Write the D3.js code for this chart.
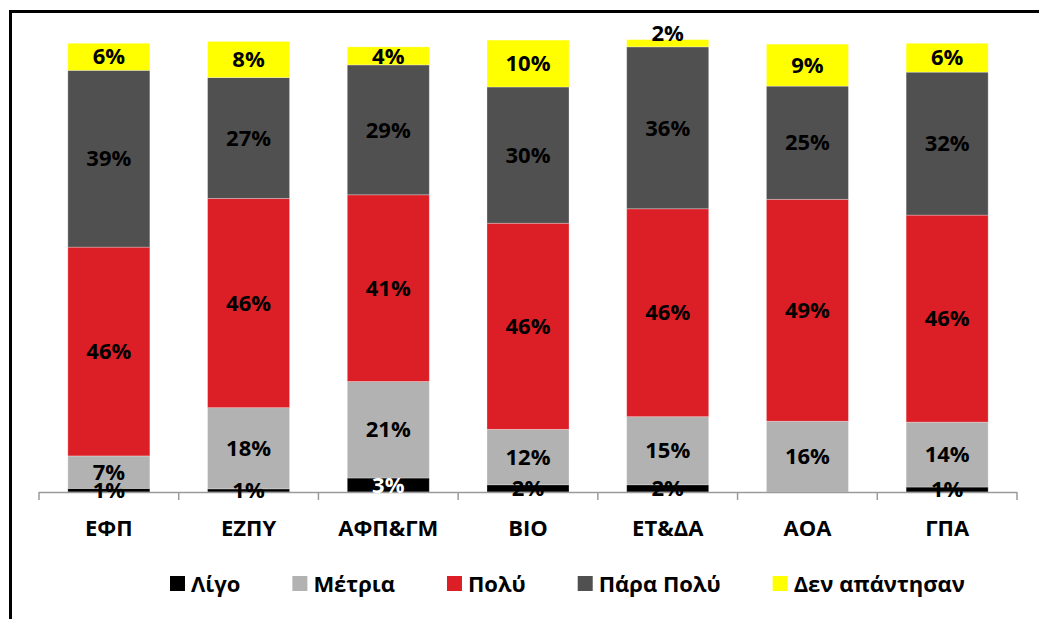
<!DOCTYPE html>
<html>
<head>
<meta charset="utf-8">
<script src="https://cdn.jsdelivr.net/npm/d3@7"></script>
<style>
	body { margin: 0; background: #fff; }
	text { font-family: "Open Sans", sans-serif; font-weight: bold; }
</style>
</head>
<body>
<div id="chart"></div>
<script>
// categories and series (percent values)
var categories = ["ΕΦΠ", "ΕΖΠΥ", "ΑΦΠ&ΓΜ", "ΒΙΟ", "ΕΤ&ΔΑ", "ΑΟΑ", "ΓΠΑ"];
var seriesNames = ["Λίγο", "Μέτρια", "Πολύ", "Πάρα Πολύ", "Δεν απάντησαν"];
var ligo = [0.8, 0.7, 3.1, 1.6, 1.6, 0, 1.1];
var metria = [7.2, 18.0, 21.4, 12.3, 15.1, 15.7, 14.4];
var poly = [46.3, 46.4, 41.4, 45.7, 46.1, 49.2, 45.9];
var paraPoly = [39.2, 26.8, 28.8, 30.2, 35.9, 25.1, 31.7];
var denApantisan = [6.0, 8.0, 4.0, 10.4, 1.6, 9.3, 6.4];
var colors = ["#000000", "#b2b2b2", "#dc1f26", "#505050", "#ffff00"];

var W = 1039, H = 619;
var margin = { left: 39, right: 22, top: 41, bottom: 127 };
var fontSize = 22;

var svg = d3.select("#chart")
	.append("svg")
	.attr("width", W)
	.attr("height", H);

// chart frame (right and bottom edges fall outside the picture)
svg.append("rect")
	.attr("x", 10.5)
	.attr("y", 11.5)
	.attr("width", W + 20)
	.attr("height", H + 20)
	.attr("fill", "none")
	.attr("stroke", "#000")
	.attr("stroke-width", 3);

var rows = categories.map(function (c, i) {
	return {
		cat: c,
		"Λίγο": ligo[i],
		"Μέτρια": metria[i],
		"Πολύ": poly[i],
		"Πάρα Πολύ": paraPoly[i],
		"Δεν απάντησαν": denApantisan[i]
	};
});

var stacked = d3.stack().keys(seriesNames)(rows);

var x = d3.scaleBand()
	.domain(categories)
	.range([margin.left, W - margin.right])
	.paddingInner(0.413)
	.paddingOuter(0.2065);

var y = d3.scaleLinear()
	.domain([0, 100])
	.range([H - margin.bottom, margin.top]);

var color = d3.scaleOrdinal().domain(seriesNames).range(colors);

var layers = svg.selectAll("g.layer")
	.data(stacked)
	.enter()
	.append("g")
	.attr("class", "layer")
	.attr("fill", function (d) { return color(d.key); });

layers.selectAll("rect")
	.data(function (d) { return d; })
	.enter()
	.append("rect")
	.attr("x", function (d) { return x(d.data.cat); })
	.attr("width", x.bandwidth())
	.attr("y", function (d) { return y(d[1]); })
	.attr("height", function (d) { return y(d[0]) - y(d[1]); })
	.attr("stroke", "rgba(255,255,255,0.35)")
	.attr("stroke-width", 0.8);

// x axis line and tick marks between categories
var base = y(0);
var axis = svg.append("g").attr("stroke", "#9a9a9a");
axis.append("line")
	.attr("x1", x.range()[0]).attr("x2", x.range()[1])
	.attr("y1", base + 0.5).attr("y2", base + 0.5)
	.attr("stroke-width", 1.5);
var tickXs = categories.map(function (c) { return x(c) - (x.step() - x.bandwidth()) / 2; });
tickXs.push(x.range()[1]);
axis.selectAll("line.tick")
	.data(tickXs)
	.enter()
	.append("line")
	.attr("class", "tick")
	.attr("x1", function (d) { return d; }).attr("x2", function (d) { return d; })
	.attr("y1", base).attr("y2", base + 8)
	.attr("stroke-width", 1.5);

svg.append("g")
	.selectAll("text")
	.data(categories)
	.enter()
	.append("text")
	.attr("x", function (d) { return x(d) + x.bandwidth() / 2; })
	.attr("y", base + 36)
	.attr("dy", "0.35em")
	.attr("text-anchor", "middle")
	.attr("font-size", fontSize)
	.attr("fill", "#000")
	.text(function (d) { return d; });

// value labels
var fmt = function (v) { return Math.round(v) + "%"; };
stacked.forEach(function (layer, li) {
	svg.append("g")
		.selectAll("text")
		.data(layer.filter(function (d) { return d[1] - d[0] > 0; }))
		.enter()
		.append("text")
		.attr("x", function (d) { return x(d.data.cat) + x.bandwidth() / 2; })
		.attr("y", function (d) {
			var h = y(d[0]) - y(d[1]);
			// thin top segment: label sits on top of the bar
			if (li === stacked.length - 1 && h < 12) return y(d[1]) - 6;
			return (y(d[0]) + y(d[1])) / 2;
		})
		.attr("dy", "0.35em")
		.attr("text-anchor", "middle")
		.attr("font-size", fontSize)
		.attr("fill", function (d) {
			var h = y(d[0]) - y(d[1]);
			return (layer.key === "Λίγο" && h > 12) ? "#fff" : "#000";
		})
		.text(function (d) { return fmt(d[1] - d[0]); });
});

// legend
var legend = svg.append("g");
var lx = 170, ly = 584;
seriesNames.forEach(function (s) {
	legend.append("rect")
		.attr("x", lx)
		.attr("y", ly - 8)
		.attr("width", 15)
		.attr("height", 15)
		.attr("fill", color(s));
	var t = legend.append("text")
		.attr("x", lx + 21)
		.attr("y", ly)
		.attr("dy", "0.35em")
		.attr("font-size", fontSize)
		.attr("fill", "#000")
		.text(s);
	lx = lx + 21 + t.node().getComputedTextLength() + 52;
});
</script>
</body>
</html>
